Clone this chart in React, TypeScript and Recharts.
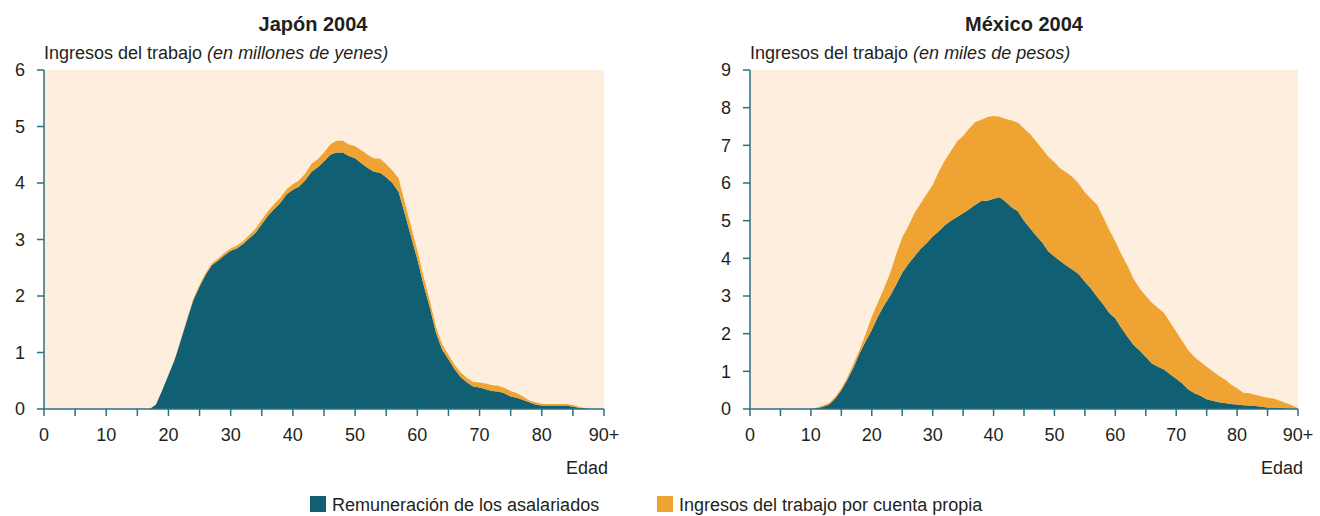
import { Area, AreaChart, CartesianGrid, XAxis, YAxis } from "recharts";

// edades 0..90 (90 = "90+")
const ages = Array.from({ length: 91 }, (_, i) => i);
const ageTicks = [0, 5, 10, 15, 20, 25, 30, 35, 40, 45, 50, 55, 60, 65, 70, 75, 80, 85, 90];

const japanTicks = [0, 1, 2, 3, 4, 5, 6];
const mexicoTicks = [0, 1, 2, 3, 4, 5, 6, 7, 8, 9];

// Japón 2004, millones de yenes
const japanWages = [
  0, 0, 0, 0, 0, 0, 0, 0, 0, 0,
  0, 0, 0, 0, 0, 0, 0, 0, 0.08, 0.33,
  0.6, 0.87, 1.22, 1.58, 1.93, 2.17, 2.38, 2.55, 2.63, 2.72,
  2.8, 2.84, 2.92, 3.02, 3.12, 3.27, 3.42, 3.54, 3.65, 3.8,
  3.88, 3.94, 4.05, 4.2, 4.28, 4.38, 4.5, 4.54, 4.54, 4.48,
  4.44, 4.35, 4.27, 4.2, 4.18, 4.1, 4.0, 3.84, 3.45, 3.05,
  2.65, 2.2, 1.8, 1.35, 1.05, 0.88, 0.7, 0.56, 0.47, 0.4,
  0.38, 0.35, 0.32, 0.31, 0.28, 0.22, 0.2, 0.16, 0.12, 0.08,
  0.06, 0.06, 0.06, 0.06, 0.06, 0.04, 0.02, 0.01, 0, 0,
  0,
];
const japanSelf = [
  0, 0, 0, 0, 0, 0, 0, 0, 0, 0,
  0, 0, 0, 0, 0, 0, 0, 0, 0, 0,
  0, 0.01, 0.01, 0.02, 0.02, 0.03, 0.03, 0.03, 0.04, 0.04,
  0.04, 0.05, 0.05, 0.06, 0.07, 0.08, 0.08, 0.09, 0.09, 0.09,
  0.1, 0.11, 0.12, 0.14, 0.14, 0.16, 0.18, 0.21, 0.21, 0.2,
  0.21, 0.23, 0.23, 0.24, 0.25, 0.23, 0.22, 0.24, 0.2, 0.18,
  0.16, 0.14, 0.12, 0.1, 0.09, 0.08, 0.08, 0.08, 0.08, 0.08,
  0.09, 0.1, 0.1, 0.1, 0.09, 0.1, 0.08, 0.06, 0.03, 0.04,
  0.03, 0.03, 0.03, 0.03, 0.03, 0.03, 0.02, 0, 0, 0,
  0,
];

// México 2004, miles de pesos
const mexicoWages = [
  0, 0, 0, 0, 0, 0, 0, 0, 0, 0,
  0, 0.02, 0.06, 0.12, 0.28, 0.5, 0.78, 1.1, 1.48, 1.8,
  2.1, 2.45, 2.75, 3.0, 3.3, 3.62, 3.85, 4.05, 4.25, 4.4,
  4.58, 4.72, 4.88, 5.0, 5.1, 5.2, 5.3, 5.42, 5.52, 5.53,
  5.58, 5.62, 5.5, 5.35, 5.25, 5.0, 4.8, 4.6, 4.42, 4.18,
  4.05, 3.92, 3.8, 3.7, 3.58, 3.38, 3.2, 2.98, 2.78, 2.55,
  2.4, 2.15, 1.92, 1.7, 1.55, 1.38, 1.21, 1.12, 1.05, 0.92,
  0.8, 0.68, 0.52, 0.42, 0.35, 0.26, 0.22, 0.18, 0.16, 0.13,
  0.12, 0.1, 0.09, 0.08, 0.06, 0.04, 0.04, 0.03, 0.02, 0.01,
  0,
];
const mexicoSelf = [
  0, 0, 0, 0, 0, 0, 0, 0, 0, 0,
  0, 0.02, 0.03, 0.04, 0.04, 0.05, 0.06, 0.1, 0.09, 0.2,
  0.35, 0.37, 0.45, 0.6, 0.8, 0.93, 1.0, 1.15, 1.2, 1.3,
  1.37, 1.58, 1.72, 1.85, 2.0, 2.05, 2.15, 2.2, 2.16, 2.22,
  2.2, 2.14, 2.2, 2.31, 2.35, 2.45, 2.5, 2.5, 2.48, 2.52,
  2.5, 2.46, 2.48, 2.45, 2.4, 2.37, 2.38, 2.44, 2.32, 2.2,
  2.05, 1.95, 1.88, 1.75, 1.65, 1.62, 1.61, 1.56, 1.5, 1.38,
  1.25, 1.12, 1.03, 0.96, 0.9, 0.86, 0.78, 0.7, 0.62, 0.52,
  0.43, 0.33, 0.33, 0.3, 0.27, 0.26, 0.24, 0.19, 0.14, 0.09,
  0.02,
];

const TEAL = "#115f72";
const ORANGE = "#efa332";
const PLOT_BG = "#fdeedd";
const AXIS = "#2a7183";
const INK = "#231f20";
const FONT = '"Liberation Sans", Arial, sans-serif';

function buildRows(wages: number[], self: number[]) {
  return ages.map((age, i) => ({ age, wages: wages[i], self: self[i] }));
}

function formatAge(v: number) {
  if (v === 90) return "90+";
  return v % 10 === 0 ? String(v) : "";
}

type PanelProps = {
  left: number;
  axisWidth: number;
  rightMargin: number;
  rows: { age: number; wages: number; self: number }[];
  yTicks: number[];
};

function IncomePanel({ left, axisWidth, rightMargin, rows, yTicks }: PanelProps) {
  const tickStyle = { fill: INK, fontSize: 18, fontFamily: FONT };
  return (
    <div style={{ position: "absolute", left, top: 0 }}>
      <AreaChart
        width={660}
        height={516}
        data={rows}
        margin={{ top: 70, right: rightMargin, bottom: 77, left: 0 }}
      >
        <CartesianGrid fill={PLOT_BG} stroke="none" horizontal={false} vertical={false} />
        <XAxis
          dataKey="age"
          type="number"
          domain={[0, 90]}
          ticks={ageTicks}
          interval={0}
          tickFormatter={formatAge}
          height={30}
          axisLine={{ stroke: AXIS, strokeWidth: 1.5 }}
          tickLine={{ stroke: AXIS, strokeWidth: 1.5 }}
          tickSize={7}
          tickMargin={12}
          tick={tickStyle}
        />
        <YAxis
          type="number"
          domain={[0, yTicks[yTicks.length - 1]]}
          ticks={yTicks}
          interval={0}
          width={axisWidth}
          axisLine={{ stroke: AXIS, strokeWidth: 1.5 }}
          tickLine={{ stroke: AXIS, strokeWidth: 1.5 }}
          tickSize={7}
          tickMargin={12}
          tick={tickStyle}
        />
        <Area
          dataKey="wages"
          name="Remuneración de los asalariados"
          stackId="1"
          type="linear"
          fill={TEAL}
          fillOpacity={1}
          stroke="none"
          isAnimationActive={false}
        />
        <Area
          dataKey="self"
          name="Ingresos del trabajo por cuenta propia"
          stackId="1"
          type="linear"
          fill={ORANGE}
          fillOpacity={1}
          stroke="none"
          isAnimationActive={false}
        />
      </AreaChart>
    </div>
  );
}

export default function App() {
  return (
    <div
      style={{
        position: "absolute",
        left: 0,
        top: 0,
        width: 1320,
        height: 516,
        background: "#ffffff",
        fontFamily: FONT,
      }}
    >
      <IncomePanel
        left={0}
        axisWidth={44}
        rightMargin={56}
        rows={buildRows(japanWages, japanSelf)}
        yTicks={japanTicks}
      />
      <IncomePanel
        left={660}
        axisWidth={90}
        rightMargin={22}
        rows={buildRows(mexicoWages, mexicoSelf)}
        yTicks={mexicoTicks}
      />
      <svg
        width={1320}
        height={516}
        style={{ position: "absolute", left: 0, top: 0, pointerEvents: "none" }}
        fontFamily={FONT}
        fill={INK}
      >
        <text x={313} y={31} fontSize={20} fontWeight="bold" textAnchor="middle">
          Japón 2004
        </text>
        <text x={1024} y={31} fontSize={20} fontWeight="bold" textAnchor="middle">
          México 2004
        </text>
        <text x={44} y={59} fontSize={18}>
          Ingresos del trabajo <tspan fontStyle="italic">(en millones de yenes)</tspan>
        </text>
        <text x={750} y={59} fontSize={18}>
          Ingresos del trabajo <tspan fontStyle="italic">(en miles de pesos)</tspan>
        </text>
        <text x={608} y={474} fontSize={18} textAnchor="end">
          Edad
        </text>
        <text x={1303} y={474} fontSize={18} textAnchor="end">
          Edad
        </text>
        <rect x={310} y={496} width={16} height={16} fill={TEAL} />
        <text x={332} y={511} fontSize={18}>
          Remuneración de los asalariados
        </text>
        <rect x={657} y={496} width={16} height={16} fill={ORANGE} />
        <text x={679} y={511} fontSize={18}>
          Ingresos del trabajo por cuenta propia
        </text>
      </svg>
    </div>
  );
}
